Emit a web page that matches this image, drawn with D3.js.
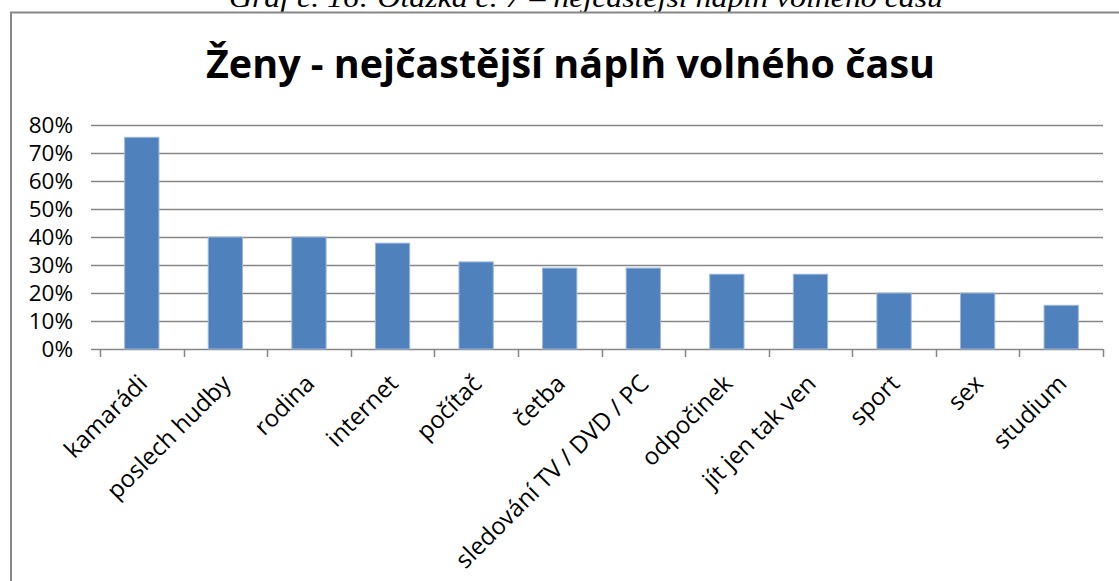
<!DOCTYPE html>
<html lang="cs">
<head>
  <meta charset="UTF-8">
  <title>Ženy - nejčastější náplň volného času</title>
  <script src="https://cdn.jsdelivr.net/npm/d3@7"></script>
<style>
  body { margin: 0; background: #fff; }
  svg { display: block; }
</style>
</head>

<body>
  <script>
    var categories = ['kamarádi', 'poslech hudby', 'rodina', 'internet', 'počítač', 'četba',
                      'sledování TV / DVD / PC', 'odpočinek', 'jít jen tak ven', 'sport', 'sex', 'studium'];
    var values = [75.6, 40, 40, 37.8, 31.1, 28.9, 28.9, 26.7, 26.7, 20, 20, 15.6];
    var yTicks = [0, 10, 20, 30, 40, 50, 60, 70, 80];

    var caption = 'Graf č. 16: Otázka č. 7 – nejčastější náplň volného času';
    var title = 'Ženy - nejčastější náplň volného času';

    var w = 1119;
    var h = 581;
    // plot area edges (note: "top" is reserved on window, so prefixed)
    var plotLeft = 100, plotRight = 1103, plotTop = 125, plotBottom = 349;

    var svg = d3.select('body')
                .append('svg')
                .attr('width', w)
                .attr('height', h);

    // caption above the chart frame (clipped in the source)
    svg.append('text')
      .attr('x', 229)
      .attr('y', 7)
      .attr('font-family', '"Liberation Serif", serif')
      .attr('font-style', 'italic')
      .attr('font-size', '27px')
      .attr('textLength', 714)
      .attr('lengthAdjust', 'spacingAndGlyphs')
      .attr('fill', '#000')
      .text(caption);

    // chart frame
    svg.append('rect')
      .attr('x', 11)
      .attr('y', 12.5)
      .attr('width', 1200)
      .attr('height', 700)
      .attr('fill', 'none')
      .attr('stroke', '#878787')
      .attr('stroke-width', 2);

    svg.append('text')
      .attr('x', 206)
      .attr('y', 78)
      .attr('font-family', '"Open Sans", sans-serif')
      .attr('font-weight', 'bold')
      .attr('font-size', '39px')
      .attr('textLength', 729)
      .attr('lengthAdjust', 'spacingAndGlyphs')
      .attr('fill', '#000')
      .text(title);

    var x = d3.scaleBand()
      .domain(categories)
      .range([plotLeft, plotRight])
      .paddingInner(0.59)
      .paddingOuter(0.295);

    var y = d3.scaleLinear()
      .domain([0, 80])
      .range([plotBottom, plotTop]);

    // gridlines (extend left as tick marks)
    svg.selectAll('line.grid')
      .data(yTicks)
      .enter()
      .append('line')
      .attr('class', 'grid')
      .attr('x1', plotLeft - 9)
      .attr('x2', plotRight)
      .attr('y1', d => Math.round(y(d)) + 0.5)
      .attr('y2', d => Math.round(y(d)) + 0.5)
      .attr('stroke', '#868686')
      .attr('stroke-width', 1.5);

    svg.selectAll('text.ylab')
      .data(yTicks)
      .enter()
      .append('text')
      .attr('class', 'ylab')
      .attr('x', 73)
      .attr('y', d => y(d))
      .attr('dy', '0.36em')
      .attr('text-anchor', 'end')
      .attr('font-family', '"Open Sans", sans-serif')
      .attr('font-size', '22.5px')
      .attr('fill', '#000')
      .text(d => d + '%');

    // category boundary ticks below the axis
    var bounds = d3.range(categories.length + 1).map(i => plotLeft + i * (plotRight - plotLeft) / categories.length);
    svg.selectAll('line.xtick')
      .data(bounds)
      .enter()
      .append('line')
      .attr('class', 'xtick')
      .attr('x1', d => Math.round(d) + 0.5)
      .attr('x2', d => Math.round(d) + 0.5)
      .attr('y1', plotBottom)
      .attr('y2', plotBottom + 8)
      .attr('stroke', '#868686')
      .attr('stroke-width', 1.5);

    svg.selectAll('rect.bar')
      .data(values)
      .enter()
      .append('rect')
      .attr('class', 'bar')
      .attr('x', (d, i) => x(categories[i]))
      .attr('y', d => y(d))
      .attr('width', x.bandwidth())
      .attr('height', d => plotBottom - y(d))
      .attr('fill', '#4f81bd')
      .attr('stroke', '#9cb6d9')
      .attr('stroke-width', 1);

    svg.selectAll('text.xlab')
      .data(categories)
      .enter()
      .append('text')
      .attr('class', 'xlab')
      .attr('transform', d => 'translate(' + (x(d) + x.bandwidth() / 2 + 7) + ',' + 385 + ') rotate(-45)')
      .attr('text-anchor', 'end')
      .attr('font-family', '"Open Sans", sans-serif')
      .attr('font-size', '24px')
      .attr('fill', '#000')
      .text(d => d);
  </script>
</body>
</html>
